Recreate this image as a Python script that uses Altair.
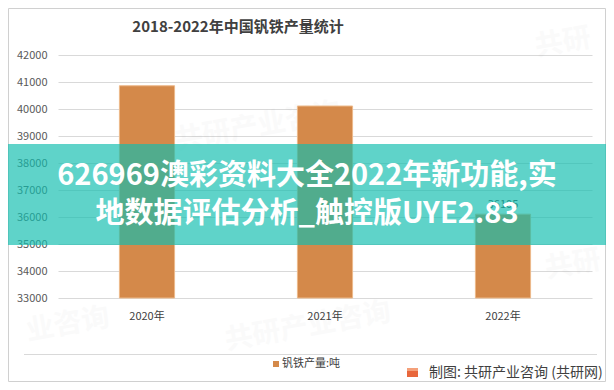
import altair as alt
import pandas as pd

years = ["2020年", "2021年", "2022年"]
production = [40860, 40110, 36105]
y_ticks = [33000, 34000, 35000, 36000, 37000, 38000, 39000, 40000, 41000, 42000]
labelled_year = ["2022年"]
labelled_value = [36105]

title_text = "2018-2022年中国钒铁产量统计"
legend_text = "钒铁产量:吨"
source_text = "制图: 共研产业咨询 (共研网)"
banner_line1 = "626969澳彩资料大全2022年新功能,实"
banner_line2 = "地数据评估分析_触控版UYE2.83"
watermark_texts = ["共研产业咨询", "共研", "共研", "共研产业咨询", "业咨询"]

FONT = "Noto Sans CJK SC"
df = pd.DataFrame({"year": years, "value": production})
lab = pd.DataFrame({"year": labelled_year, "value": labelled_value})
one = pd.DataFrame({"a": [0]})

def txt(text, x, y, size, color, weight="normal", align="center", angle=0, opacity=1.0, baseline="middle"):
    return alt.Chart(one).mark_text(text=text, font=FONT, fontSize=size, color=color,
                                    fontWeight=weight, align=align, baseline=baseline,
                                    angle=angle, opacity=opacity).encode(
        x=alt.value(x), y=alt.value(y))

def rect(x, x2, y, y2, color, opacity=1.0):
    return alt.Chart(one).mark_rect(color=color, opacity=opacity).encode(
        x=alt.value(x), x2=alt.value(x2), y=alt.value(y), y2=alt.value(y2))

def hrule(x, x2, y, color):
    return alt.Chart(one).mark_rule(color=color, strokeWidth=1).encode(
        x=alt.value(x), x2=alt.value(x2), y=alt.value(y))

def vrule(x, y, y2, color):
    return alt.Chart(one).mark_rule(color=color, strokeWidth=1).encode(
        x=alt.value(x), y=alt.value(y), y2=alt.value(y2))

xenc = alt.X("year:N", sort=years,
             scale=alt.Scale(paddingInner=0.69, paddingOuter=0.345),
             axis=alt.Axis(labelAngle=0, domain=False, ticks=False, tickSize=0, labelPadding=12,
                           labelFontSize=11, labelColor="#404040", labelFont=FONT, title=None))
yscale = alt.Scale(domain=[33000, 42000], nice=False, zero=False)

bars = alt.Chart(df).mark_bar(color="#D4894A", stroke="#EDB98A", strokeWidth=1).encode(
    x=xenc,
    y=alt.Y("value:Q", scale=yscale,
            axis=alt.Axis(values=y_ticks, format="d", gridColor="#d9d9d9", domain=False,
                          ticks=False, tickSize=0, labelPadding=11, labelFontSize=11,
                          labelOverlap=False, tickCount=10,
                          labelColor="#595959", labelFont=FONT, title=None)),
    y2=alt.datum(33000),
)

labels = alt.Chart(lab).mark_text(font=FONT, fontSize=11, color="#404040", dy=-9).encode(
    x=alt.X("year:N", sort=years), y=alt.Y("value:Q", scale=yscale), text=alt.Text("value:Q", format="d"))

wm_pos = [(200, 72), (505, -12), (515, 210), (250, 272), (10, 270)]
watermarks = [txt(t, x, y, 28, "#808080", weight="bold", angle=350, opacity=0.035)
              for t, (x, y) in zip(watermark_texts, wm_pos)]

frame = [hrule(-49.5, 547.5, -46.5, "#d0d0d0"), hrule(-49.5, 547.5, 326.5, "#d0d0d0"),
         vrule(-49.5, -46.5, 326.5, "#d0d0d0"), vrule(547.5, -46.5, 326.5, "#d0d0d0")]

title = txt(title_text, 180, -28, 15, "#404040", weight="bold")
sep = hrule(-34, 539, 299.5, "#d9d9d9")
leg_sq = rect(215, 221, 306, 312, "#D4894A")
leg_txt = txt(legend_text, 224, 309, 11, "#404040", align="left")
logo = rect(349, 360, 313, 322, "#E8673C")
logo2 = rect(349, 360, 313, 316, "#F4A07A")
src = txt(source_text, 371, 318, 14, "#404040", align="left")

banner = rect(-50, 548, 89, 190, "#10BEAF", opacity=0.67)
b1 = txt(banner_line1, 249, 121, 29, "white", weight="bold")
b2 = txt(banner_line2, 249, 159, 29, "white", weight="bold")

chart = alt.layer(
    *frame, *watermarks, bars, labels, title, sep, leg_sq, leg_txt, logo, logo2, src, banner, b1, b2
).properties(
    width=534, height=243,
    autosize=alt.AutoSizeParams(type="none"),
    padding={"left": 50, "top": 47, "right": 14, "bottom": 84},
    background="white",
).configure_view(stroke=None)

chart.save("out.html", embed_options={"renderer": "svg", "actions": False})
